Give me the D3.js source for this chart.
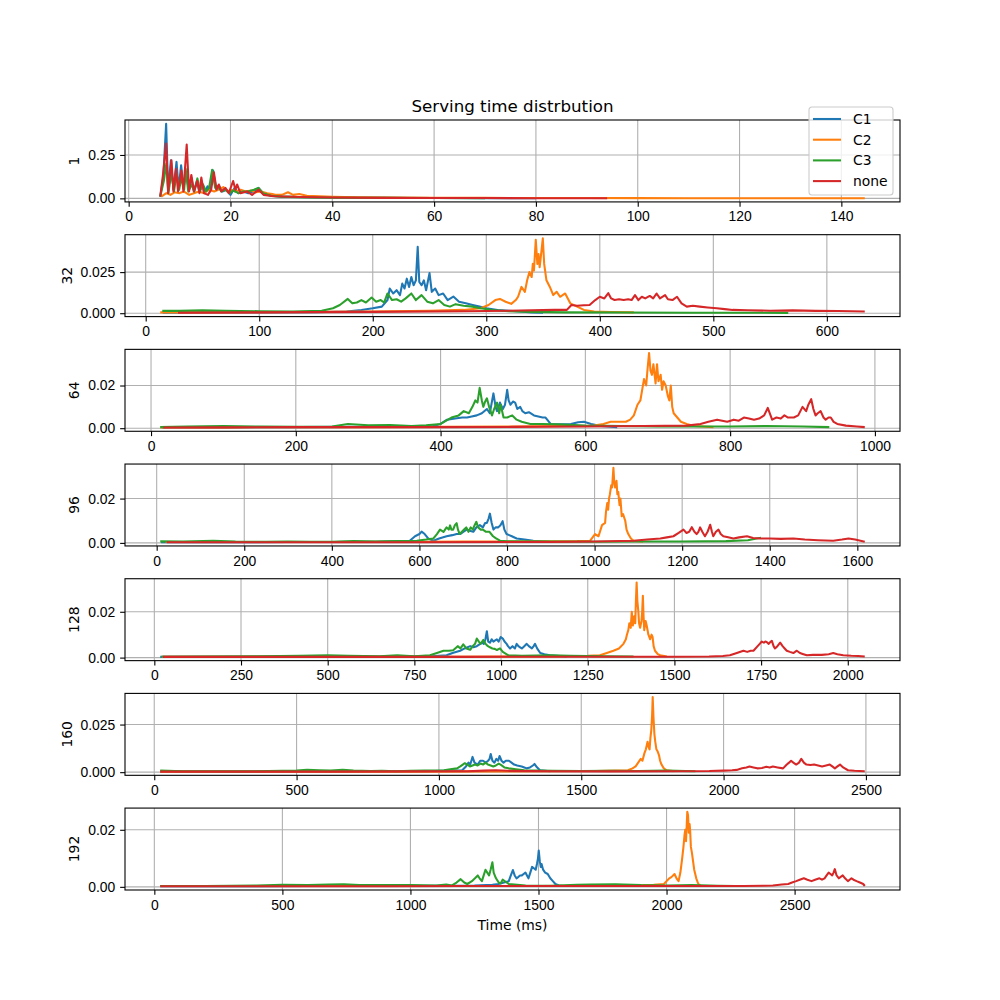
<!DOCTYPE html>
<html>
<head>
<meta charset="utf-8">
<title>Serving time distrbution</title>
<script src="https://cdn.jsdelivr.net/npm/d3@7"></script>
<style>
  body { margin: 0; background: #fff; }
  svg { font-family: "DejaVu Sans", sans-serif; }
  .tick text { font-size: 13.9px; fill: #000; }
</style>
</head>
<body>
<div id="chart"></div>
<script>
// ---- data (x in ms, y = density) ----
const batches = ["1", "32", "64", "96", "128", "160", "192"];
const seriesNames = ["C1", "C2", "C3", "none"];
const colors = ["#1f77b4", "#ff7f0e", "#2ca02c", "#d62728"];

const xTicks = [
  [0, 20, 40, 60, 80, 100, 120, 140],
  [0, 100, 200, 300, 400, 500, 600],
  [0, 200, 400, 600, 800, 1000],
  [0, 200, 400, 600, 800, 1000, 1200, 1400, 1600],
  [0, 250, 500, 750, 1000, 1250, 1500, 1750, 2000],
  [0, 500, 1000, 1500, 2000, 2500],
  [0, 500, 1000, 1500, 2000, 2500]
];
const yTicks = [[0, 0.25], [0, 0.025], [0, 0.02], [0, 0.02], [0, 0.02], [0, 0.025], [0, 0.02]];
const yFormats = [".2f", ".3f", ".2f", ".2f", ".2f", ".3f", ".2f"];

// batch 1
const c1_b1 = [[6.2,0.01],[6.8,0.12],[7.36,0.43],[7.75,0.04],[8.3,0.22],[8.8,0.05],[9.4,0.21],[9.8,0.05],[10.3,0.19],[10.8,0.06],[11.3,0.15],[11.8,0.05],[12.3,0.12],[12.8,0.04],[13.4,0.1],[13.9,0.04],[14.4,0.09],[14.9,0.03],[15.5,0.07],[16.0,0.04],[16.6,0.16],[17.2,0.05],[17.8,0.07],[18.4,0.04],[19.2,0.05],[20,0.02],[20.8,0.06],[21.5,0.03],[22.5,0.04],[23.5,0.03],[24.5,0.04],[25.5,0.06],[26.5,0.025],[28,0.015],[30,0.01],[33,0.008],[36,0.006],[40,0.005],[45,0.004],[50,0.003],[55,0.002],[60,0.002],[70,0.001],[80,0.001]];
const c2_b1 = [[6.4,0.01],[7.4,0.03],[8.2,0.02],[9,0.035],[10,0.03],[10.8,0.04],[11.9,0.02],[12.8,0.03],[13.8,0.04],[14.8,0.03],[15.8,0.05],[16.8,0.04],[17.6,0.05],[18.6,0.065],[19.4,0.04],[20.2,0.05],[21,0.04],[22,0.05],[23,0.04],[24,0.045],[25,0.035],[26,0.04],[27.2,0.03],[28.2,0.025],[29,0.02],[30.1,0.02],[31.3,0.035],[32.3,0.02],[33.5,0.025],[35,0.015],[37.5,0.012],[40,0.009],[45,0.006],[50,0.005],[60,0.004],[70,0.003],[80,0.002],[90,0.002],[100,0.0015],[110,0.001],[120,0.001],[130,0.001],[144.6,0.001]];
const c3_b1 = [[6.2,0.01],[6.9,0.1],[7.4,0.2],[7.8,0.03],[8.4,0.15],[8.9,0.04],[9.4,0.14],[9.9,0.05],[10.4,0.12],[10.9,0.05],[11.2,0.17],[11.7,0.04],[12.4,0.08],[12.9,0.04],[13.5,0.115],[14,0.04],[14.6,0.08],[15.2,0.04],[15.8,0.06],[16.4,0.165],[17.0,0.06],[17.5,0.07],[18.2,0.04],[19,0.05],[19.8,0.03],[20.5,0.045],[21.6,0.03],[22.5,0.04],[23.5,0.04],[24.6,0.05],[25.5,0.06],[26.4,0.03],[28,0.015],[30,0.01],[33,0.007],[36,0.005],[40,0.004],[50,0.003],[60,0.002],[70,0.001]];
const none_b1 = [[6.2,0.01],[6.8,0.15],[7.36,0.316],[7.75,0.03],[8.4,0.22],[8.8,0.04],[9.3,0.17],[9.7,0.04],[10.36,0.16],[10.75,0.04],[11.4,0.31],[11.86,0.04],[12.31,0.135],[12.83,0.04],[13.49,0.1],[13.9,0.03],[14.27,0.12],[14.79,0.03],[15.57,0.02],[16.2,0.05],[16.74,0.15],[17.27,0.05],[17.72,0.08],[18.18,0.04],[19.02,0.06],[19.67,0.03],[20.52,0.1],[20.98,0.05],[21.3,0.08],[21.95,0.03],[23.26,0.04],[24.24,0.02],[25.54,0.05],[26.5,0.02],[28.5,0.012],[33.7,0.008],[40.2,0.005],[50,0.003],[60,0.002],[70,0.002],[80,0.001],[94,0.001]];

// batch 32
const c1_b32 = [[15,0.0003],[60,0.0004],[100,0.0004],[150,0.0006],[177,0.001],[190,0.002],[200,0.003],[208,0.004],[213,0.008],[215,0.015],[218,0.012],[221,0.014],[224,0.011],[226,0.018],[228,0.015],[230,0.021],[232,0.016],[234,0.022],[236,0.017],[238,0.02],[239.6,0.0404],[241,0.019],[243,0.017],[245,0.02],[247,0.014],[250,0.0244],[252,0.013],[255,0.015],[258,0.011],[262,0.012],[266,0.008],[271,0.0101],[276,0.007],[282,0.006],[288,0.005],[294,0.004],[300,0.003],[310,0.002],[320,0.0015],[330,0.001],[340,0.0005],[350,0.0003]];
const c2_b32 = [[12.8,0.0005],[50,0.0005],[100,0.0006],[150,0.0008],[200,0.001],[250,0.0015],[280,0.002],[295,0.003],[302,0.005],[308,0.008],[312,0.0087],[317,0.007],[322,0.0057],[326,0.008],[328,0.01],[331,0.016],[334,0.013],[336,0.02],[338,0.025],[340,0.022],[341,0.03],[342,0.026],[343.6,0.0447],[345,0.03],[346,0.036],[347,0.028],[348,0.034],[349.8,0.0455],[351,0.03],[353,0.02],[356,0.016],[359,0.011],[362,0.013],[365,0.01],[369.5,0.012],[374,0.006],[380,0.004],[386,0.002],[395,0.001],[410,0.0007],[430,0.0005]];
const c3_b32 = [[14.6,0.0014],[30,0.0014],[50,0.0017],[70,0.0015],[100,0.0012],[130,0.001],[155,0.0015],[165,0.003],[171,0.005],[178,0.0087],[182,0.006],[186,0.0065],[190,0.008],[194,0.0065],[199,0.0095],[203,0.007],[207,0.008],[210,0.0065],[213,0.012],[217,0.008],[221,0.0085],[225,0.007],[229,0.009],[234,0.012],[238,0.008],[243,0.011],[248,0.007],[253,0.006],[258,0.008],[263,0.005],[268,0.004],[273,0.0055],[280,0.0045],[288,0.004],[295,0.003],[305,0.002],[320,0.0012],[340,0.0008],[370,0.0005],[420,0.0004],[480,0.0003],[566,0.0002]];
const none_b32 = [[28.5,0.0003],[100,0.0005],[200,0.0008],[280,0.0012],[330,0.0016],[360,0.002],[371,0.002],[375,0.005],[380,0.0045],[386,0.0048],[391,0.005],[396,0.008],[400,0.01],[404,0.009],[407.5,0.0122],[410,0.009],[413,0.008],[417,0.0085],[421,0.008],[425,0.0085],[428,0.008],[431,0.011],[434,0.008],[437,0.01],[440,0.009],[444,0.0105],[447,0.009],[450,0.012],[453,0.009],[457.5,0.011],[460,0.0085],[464,0.008],[468,0.01],[472,0.006],[476.6,0.004],[482,0.0045],[488,0.004],[495,0.0035],[503,0.003],[510,0.0025],[517,0.002],[530,0.0018],[550,0.0015],[570,0.0017],[590,0.0014],[610,0.0013],[633.4,0.001]];

// batch 64
const c1_b64 = [[15,0.0003],[100,0.0004],[200,0.0005],[300,0.0006],[370,0.0008],[390,0.001],[400,0.002],[409,0.004],[420,0.0045],[430,0.005],[436.6,0.005],[443,0.0055],[450,0.006],[457,0.007],[464,0.009],[468,0.007],[473,0.0163],[476,0.01],[478,0.008],[482,0.012],[486,0.009],[489,0.011],[492,0.018],[494,0.013],[496.6,0.011],[500,0.0125],[503,0.012],[506,0.009],[510,0.01],[513,0.008],[517,0.007],[522,0.0075],[529,0.006],[535,0.0055],[541,0.005],[545,0.005],[552,0.002],[565,0.0018],[580,0.002],[590,0.0028],[598,0.003],[608,0.002],[621,0.001],[644,0.0005]];
const c2_b64 = [[12.7,0.0004],[100,0.0004],[200,0.0005],[300,0.0005],[400,0.0006],[500,0.0008],[560,0.001],[600,0.001],[612,0.0012],[625,0.002],[635,0.003],[645,0.003],[656,0.003],[662,0.004],[667,0.006],[672,0.011],[676,0.013],[681,0.023],[684,0.02],[686,0.028],[688,0.0352],[690,0.027],[692,0.025],[694,0.03],[697,0.021],[699,0.03],[701,0.022],[704,0.025],[706,0.018],[708,0.022],[711,0.02],[714,0.015],[716,0.013],[718,0.02],[720,0.01],[722,0.007],[727,0.005],[732,0.003],[740,0.002],[750,0.001],[777,0.0005]];
const c3_b64 = [[12.7,0.0005],[50,0.0008],[100,0.001],[150,0.0008],[200,0.0006],[250,0.0008],[272,0.002],[300,0.0014],[330,0.0015],[360,0.001],[380,0.0014],[400,0.002],[415,0.005],[425,0.006],[432,0.008],[439,0.007],[444,0.01],[448,0.013],[451,0.012],[454,0.0189],[457,0.013],[459,0.01],[461,0.012],[464,0.014],[467,0.01],[471,0.006],[474,0.009],[478,0.012],[481,0.007],[483,0.011],[487,0.005],[492,0.005],[499,0.006],[505,0.004],[512,0.003],[524,0.002],[540,0.002],[560,0.0018],[600,0.0012],[650,0.001],[700,0.0008],[800,0.0008],[850,0.001],[900,0.0008],[937,0.0005]];
const none_b64 = [[17,0.0003],[100,0.0004],[200,0.0005],[300,0.0005],[400,0.0005],[500,0.0006],[600,0.0008],[680,0.001],[740,0.0012],[759,0.002],[770,0.003],[782,0.004],[789,0.0035],[796,0.003],[805,0.004],[812,0.0035],[819,0.005],[826,0.0045],[833,0.004],[840,0.0045],[847,0.006],[852,0.0095],[858,0.004],[864,0.005],[870,0.0045],[875,0.006],[880,0.005],[888,0.005],[894,0.006],[900,0.01],[905,0.008],[908,0.011],[912,0.0136],[915,0.009],[918,0.006],[921,0.007],[925,0.008],[929,0.005],[932,0.004],[936,0.005],[939,0.005],[943,0.003],[948,0.002],[960,0.0012],[975,0.0008],[986,0.0005]];

// batch 96
const c1_b96 = [[10,0.0003],[100,0.0003],[200,0.0003],[300,0.0004],[400,0.0004],[500,0.0005],[560,0.0008],[578,0.001],[590,0.003],[600,0.004],[605,0.0051],[612,0.004],[620,0.002],[632,0.001],[645,0.002],[662,0.003],[675,0.0035],[685,0.004],[693,0.004],[700,0.005],[708,0.006],[715,0.0055],[723,0.005],[730,0.007],[738,0.008],[745,0.007],[750,0.009],[754,0.009],[758,0.011],[761,0.0132],[765,0.009],[769,0.006],[774,0.007],[780,0.007],[785,0.008],[790,0.0098],[794,0.006],[799,0.004],[805,0.0035],[811,0.003],[822,0.002],[840,0.0015],[860,0.001],[898,0.0005]];
const c2_b96 = [[20,0.0004],[100,0.0004],[200,0.0004],[300,0.0004],[400,0.0004],[500,0.0005],[600,0.0005],[700,0.0006],[800,0.0006],[900,0.0007],[960,0.0008],[990,0.001],[1001,0.004],[1009,0.003],[1017,0.008],[1024,0.009],[1026,0.014],[1029,0.018],[1031,0.015],[1033,0.02],[1035,0.022],[1038,0.026],[1040,0.025],[1043,0.0339],[1045,0.027],[1047,0.025],[1050,0.028],[1052,0.022],[1054,0.023],[1057,0.017],[1059,0.02],[1062,0.012],[1065,0.013],[1070,0.01],[1073,0.006],[1077,0.004],[1083,0.002],[1089,0.001],[1111,0.0005]];
const c3_b96 = [[8.1,0.0007],[60,0.0006],[129,0.001],[180,0.0006],[250,0.0005],[300,0.0006],[350,0.0005],[400,0.0005],[450,0.0008],[500,0.0006],[550,0.0008],[594,0.001],[615,0.0015],[632,0.002],[640,0.004],[647,0.006],[655,0.005],[662,0.007],[667,0.006],[670,0.0079],[673,0.006],[677,0.006],[681,0.008],[685,0.0089],[688,0.006],[692,0.004],[697,0.005],[702,0.006],[707,0.007],[712,0.005],[717,0.007],[722,0.006],[726,0.008],[730,0.0095],[734,0.007],[740,0.006],[745,0.006],[752,0.005],[760,0.005],[768,0.003],[775,0.002],[784,0.001],[800,0.0007],[900,0.0006],[1000,0.0005],[1100,0.0006],[1200,0.0006],[1300,0.0008],[1350,0.0012],[1370,0.002],[1380,0.0023]];
const none_b96 = [[23,0.0003],[200,0.0003],[400,0.0003],[600,0.0003],[800,0.0004],[900,0.0004],[1000,0.0006],[1089,0.001],[1120,0.0015],[1150,0.002],[1165,0.0025],[1180,0.003],[1192,0.0045],[1203,0.006],[1210,0.0045],[1216,0.005],[1222,0.0071],[1228,0.005],[1233,0.004],[1237,0.005],[1241,0.007],[1246,0.005],[1252,0.003],[1258,0.005],[1264,0.0082],[1268,0.005],[1271,0.003],[1277,0.005],[1283,0.006],[1288,0.004],[1294,0.003],[1305,0.0025],[1317,0.002],[1330,0.0025],[1348,0.003],[1362,0.0022],[1378,0.002],[1400,0.002],[1425,0.0018],[1454,0.002],[1480,0.0015],[1510,0.0012],[1545,0.001],[1565,0.0015],[1580,0.002],[1595,0.0015],[1617,0.0005]];

// batch 128
const c1_b128 = [[17,0.0003],[100,0.0003],[300,0.0003],[500,0.0004],[700,0.0004],[800,0.0006],[843,0.001],[860,0.002],[882,0.003],[895,0.004],[911,0.005],[920,0.0045],[930,0.005],[940,0.006],[945,0.0065],[950,0.006],[955,0.008],[959,0.0115],[963,0.007],[968,0.0065],[973,0.008],[978,0.007],[983,0.0075],[988,0.008],[993,0.007],[999,0.009],[1005,0.0083],[1010,0.007],[1016,0.006],[1020,0.005],[1026,0.004],[1033,0.005],[1040,0.004],[1045,0.006],[1050,0.005],[1055,0.0045],[1060,0.004],[1067,0.005],[1074,0.006],[1080,0.005],[1089,0.004],[1094,0.005],[1098,0.006],[1104,0.004],[1113,0.002],[1125,0.0015],[1141,0.001],[1190,0.0005]];
const c2_b128 = [[22,0.0004],[200,0.0004],[400,0.0004],[600,0.0004],[800,0.0004],[1000,0.0005],[1150,0.0006],[1250,0.0008],[1285,0.001],[1305,0.002],[1324,0.003],[1340,0.004],[1353,0.006],[1360,0.008],[1363,0.01],[1367,0.012],[1370,0.015],[1374,0.013],[1377,0.02],[1380,0.014],[1384,0.018],[1387,0.015],[1389,0.025],[1391,0.0328],[1393,0.025],[1396,0.02],[1398,0.015],[1401,0.013],[1405,0.016],[1407,0.02],[1409,0.027],[1411,0.018],[1413,0.012],[1417,0.016],[1420,0.014],[1425,0.01],[1430,0.008],[1434,0.01],[1437,0.009],[1440,0.005],[1444,0.003],[1452,0.0015],[1459,0.001],[1478,0.0005]];
const c3_b128 = [[20,0.0004],[150,0.0005],[300,0.0006],[420,0.0008],[500,0.001],[560,0.0008],[650,0.0006],[700,0.001],[750,0.0006],[795,0.001],[815,0.002],[834,0.003],[850,0.003],[862,0.0032],[875,0.005],[883,0.004],[891,0.0058],[900,0.004],[911,0.0034],[918,0.005],[925,0.006],[930,0.0083],[936,0.007],[941,0.006],[949,0.0077],[955,0.006],[962,0.005],[968,0.0045],[975,0.004],[982,0.0038],[988,0.0033],[997,0.004],[1005,0.0025],[1021,0.001],[1060,0.0008],[1100,0.0009],[1141,0.001],[1200,0.0008],[1300,0.0006],[1382,0.0005]];
const none_b128 = [[25,0.0003],[300,0.0003],[600,0.0003],[900,0.0003],[1200,0.0004],[1500,0.0004],[1600,0.0005],[1640,0.0007],[1660,0.001],[1680,0.002],[1699,0.003],[1710,0.0025],[1720,0.003],[1728,0.003],[1740,0.005],[1746,0.006],[1752,0.007],[1758,0.0065],[1762,0.007],[1766,0.0068],[1772,0.006],[1778,0.007],[1781,0.0073],[1786,0.005],[1790,0.004],[1797,0.005],[1805,0.0065],[1812,0.005],[1818,0.004],[1824,0.003],[1833,0.0025],[1843,0.002],[1853,0.003],[1862,0.002],[1872,0.0015],[1882,0.001],[1900,0.0012],[1925,0.0012],[1945,0.0015],[1958,0.002],[1970,0.0015],[1987,0.001],[2010,0.0008],[2030,0.0007],[2049,0.0005]];

// batch 160
const c1_b160 = [[21,0.0003],[200,0.0003],[400,0.0003],[600,0.0003],[800,0.0004],[950,0.0005],[1050,0.0008],[1082,0.001],[1095,0.003],[1104,0.005],[1110,0.004],[1118,0.008],[1125,0.005],[1136,0.004],[1145,0.006],[1155,0.006],[1164,0.005],[1173,0.006],[1178,0.007],[1182,0.0095],[1188,0.006],[1195,0.005],[1202,0.007],[1208,0.006],[1213,0.0085],[1220,0.006],[1227,0.005],[1235,0.006],[1246,0.006],[1255,0.005],[1264,0.004],[1275,0.0035],[1291,0.003],[1300,0.0025],[1309,0.002],[1320,0.0025],[1330,0.0035],[1336,0.0043],[1342,0.003],[1355,0.001],[1391,0.0005]];
const c2_b160 = [[21,0.0003],[300,0.0003],[600,0.0003],[900,0.0003],[1200,0.0004],[1400,0.0005],[1550,0.0006],[1620,0.0008],[1664,0.001],[1680,0.002],[1691,0.003],[1700,0.005],[1709,0.007],[1715,0.006],[1722,0.01],[1727,0.012],[1733,0.016],[1737,0.013],[1740,0.012],[1743,0.018],[1746,0.022],[1749,0.03],[1751,0.0394],[1754,0.028],[1757,0.02],[1760,0.016],[1764,0.012],[1768,0.011],[1773,0.009],[1777,0.006],[1782,0.004],[1790,0.002],[1800,0.001],[1827,0.0005]];
const c3_b160 = [[21,0.0008],[100,0.0005],[200,0.0005],[300,0.0004],[400,0.0006],[500,0.0009],[537,0.0012],[580,0.001],[620,0.0008],[662,0.0012],[700,0.0008],[760,0.0006],[800,0.0007],[850,0.0005],[900,0.0007],[950,0.0009],[1000,0.0008],[1018,0.001],[1040,0.0015],[1064,0.002],[1075,0.003],[1084,0.004],[1091,0.0047],[1100,0.004],[1109,0.003],[1118,0.0035],[1127,0.004],[1136,0.0035],[1146,0.0045],[1155,0.004],[1164,0.005],[1172,0.004],[1182,0.0035],[1191,0.003],[1200,0.0035],[1210,0.0045],[1218,0.0038],[1230,0.0025],[1245,0.002],[1270,0.0015],[1300,0.001],[1400,0.0007],[1500,0.0006],[1600,0.0007],[1700,0.0006],[1800,0.0008],[1901,0.0005]];
const none_b160 = [[21,0.0003],[300,0.0003],[600,0.0003],[900,0.0004],[1100,0.0005],[1160,0.0008],[1200,0.001],[1240,0.0007],[1400,0.0005],[1600,0.0004],[1800,0.0005],[1950,0.0006],[2000,0.0008],[2030,0.001],[2046,0.0012],[2065,0.002],[2080,0.0025],[2091,0.003],[2105,0.0025],[2118,0.002],[2135,0.0022],[2150,0.0028],[2162,0.0025],[2173,0.003],[2190,0.0025],[2209,0.002],[2222,0.004],[2230,0.005],[2237,0.006],[2245,0.005],[2255,0.004],[2265,0.005],[2273,0.007],[2282,0.005],[2291,0.004],[2305,0.0038],[2318,0.004],[2332,0.0035],[2346,0.003],[2360,0.0035],[2373,0.004],[2382,0.003],[2391,0.002],[2400,0.003],[2409,0.004],[2420,0.0025],[2437,0.001],[2460,0.0007],[2496,0.0005]];

// batch 192
const c1_b192 = [[23,0.0002],[300,0.0002],[600,0.0003],[900,0.0003],[1100,0.0004],[1250,0.0005],[1320,0.0007],[1344,0.001],[1365,0.0015],[1384,0.002],[1392,0.004],[1400,0.0059],[1407,0.004],[1414,0.003],[1422,0.0035],[1428,0.004],[1435,0.004],[1442,0.0045],[1449,0.005],[1455,0.004],[1461,0.003],[1468,0.005],[1475,0.007],[1482,0.0065],[1489,0.006],[1494,0.008],[1498,0.01],[1501,0.0127],[1505,0.009],[1509,0.007],[1512,0.008],[1518,0.006],[1526,0.005],[1536,0.0045],[1546,0.003],[1556,0.002],[1566,0.001],[1580,0.0005],[1596,0.0003]];
const c2_b192 = [[23,0.0003],[300,0.0003],[600,0.0003],[900,0.0003],[1200,0.0003],[1500,0.0003],[1700,0.0004],[1850,0.0005],[1950,0.0007],[1990,0.001],[2000,0.002],[2011,0.003],[2020,0.0035],[2031,0.0045],[2039,0.003],[2047,0.002],[2054,0.005],[2061,0.01],[2066,0.014],[2070,0.018],[2073,0.02],[2076,0.016],[2079,0.022],[2081,0.0263],[2084,0.025],[2087,0.019],[2090,0.022],[2092,0.02],[2095,0.014],[2099,0.012],[2102,0.01],[2108,0.006],[2116,0.003],[2124,0.001],[2132,0.0005]];
const c3_b192 = [[23,0.0003],[200,0.0003],[400,0.0005],[500,0.0007],[600,0.0006],[680,0.0008],[740,0.0009],[800,0.0006],[900,0.0006],[1000,0.0006],[1100,0.0005],[1140,0.0008],[1162,0.0005],[1180,0.0015],[1196,0.0027],[1210,0.0015],[1222,0.001],[1240,0.002],[1252,0.003],[1263,0.004],[1270,0.003],[1279,0.002],[1286,0.004],[1293,0.006],[1300,0.005],[1307,0.004],[1313,0.006],[1320,0.0086],[1325,0.005],[1334,0.003],[1345,0.0015],[1352,0.0012],[1360,0.0025],[1368,0.002],[1384,0.001],[1450,0.0005],[1550,0.0004],[1650,0.0007],[1700,0.0008],[1800,0.0009],[1900,0.0006],[2000,0.0005],[2100,0.0006],[2200,0.0004],[2270,0.0003]];
const none_b192 = [[23,0.0002],[300,0.0002],[600,0.0002],[900,0.0002],[1200,0.0003],[1500,0.0003],[1800,0.0003],[2100,0.0003],[2300,0.0003],[2380,0.0004],[2415,0.0005],[2450,0.0008],[2475,0.001],[2490,0.0015],[2506,0.002],[2520,0.0025],[2536,0.003],[2550,0.0025],[2566,0.002],[2580,0.0025],[2597,0.003],[2607,0.0025],[2617,0.003],[2625,0.004],[2633,0.005],[2640,0.0045],[2647,0.004],[2652,0.005],[2657,0.0062],[2664,0.004],[2673,0.003],[2680,0.0035],[2688,0.004],[2697,0.003],[2708,0.002],[2715,0.0025],[2722,0.003],[2730,0.0025],[2742,0.002],[2755,0.0015],[2768,0.001],[2774,0.0003]];

const panelSeries = [
  [c1_b1, c2_b1, c3_b1, none_b1],
  [c1_b32, c2_b32, c3_b32, none_b32],
  [c1_b64, c2_b64, c3_b64, none_b64],
  [c1_b96, c2_b96, c3_b96, none_b96],
  [c1_b128, c2_b128, c3_b128, none_b128],
  [c1_b160, c2_b160, c3_b160, none_b160],
  [c1_b192, c2_b192, c3_b192, none_b192]
];

// ---- layout (matplotlib-like subplots) ----
const W = 1000, H = 1000;
const left = 125, right = 900, figTop = 120, figBottom = 890;
const n = batches.length, hspace = 0.4;
const ph = (figBottom - figTop) / (n + (n - 1) * hspace);
const pw = right - left;
const fs = 13.9;
const tickLen = 4.86, tickPad = 4.86;

const svg = d3.select("#chart").append("svg")
  .attr("width", W).attr("height", H);

function padded(ext) {
  const d = ext[1] - ext[0];
  return [ext[0] - 0.05 * d, ext[1] + 0.05 * d];
}

panelSeries.forEach((series, i) => {
  const top = figTop + i * ph * (1 + hspace);
  const g = svg.append("g").attr("transform", `translate(${left},${top})`);

  const all = series.flat();
  const x = d3.scaleLinear().domain(padded(d3.extent(all, d => d[0]))).range([0, pw]);
  const y = d3.scaleLinear().domain(padded(d3.extent(all, d => d[1]))).range([ph, 0]);

  // grid
  const grid = g.append("g").attr("stroke", "#b0b0b0").attr("stroke-width", 1.1);
  grid.selectAll(".gx").data(xTicks[i]).join("line")
    .attr("x1", d => x(d)).attr("x2", d => x(d)).attr("y1", 0).attr("y2", ph);
  grid.selectAll(".gy").data(yTicks[i]).join("line")
    .attr("y1", d => y(d)).attr("y2", d => y(d)).attr("x1", 0).attr("x2", pw);

  // lines
  const line = d3.line().x(d => x(d[0])).y(d => y(d[1]));
  const clipId = "clip" + i;
  g.append("clipPath").attr("id", clipId).append("rect").attr("width", pw).attr("height", ph);
  g.append("g").attr("clip-path", `url(#${clipId})`)
    .selectAll("path").data(series).join("path")
    .attr("d", line)
    .attr("fill", "none")
    .attr("stroke", (d, k) => colors[k])
    .attr("stroke-width", 2.08)
    .attr("stroke-linejoin", "round");

  // axes
  const xAxis = d3.axisBottom(x).tickValues(xTicks[i]).tickSize(tickLen).tickPadding(tickPad).tickFormat(d3.format("d"));
  const yAxis = d3.axisLeft(y).tickValues(yTicks[i]).tickSize(tickLen).tickPadding(tickPad).tickFormat(d3.format(yFormats[i]));
  const gx = g.append("g").attr("class", "xaxis").attr("transform", `translate(0,${ph})`).call(xAxis);
  const gy = g.append("g").attr("class", "yaxis").call(yAxis);
  [gx, gy].forEach(a => {
    a.select(".domain").remove();
    a.selectAll(".tick line").attr("stroke", "#000").attr("stroke-width", 1.1);
    a.selectAll(".tick text").style("font-size", fs + "px").attr("fill", "#000");
  });

  // frame
  g.append("rect").attr("width", pw).attr("height", ph)
    .attr("fill", "none").attr("stroke", "#000").attr("stroke-width", 1.1);

  // y label
  let maxW = 0;
  gy.selectAll(".tick text").each(function () { maxW = Math.max(maxW, this.getComputedTextLength()); });
  g.append("text")
    .attr("transform", `translate(${-(tickLen + tickPad + maxW + 5.6 + 3.3)},${ph / 2}) rotate(-90)`)
    .attr("text-anchor", "middle")
    .style("font-size", fs + "px")
    .text(batches[i]);

  if (i === 0) {
    g.append("text")
      .attr("x", pw / 2).attr("y", -8.3)
      .attr("text-anchor", "middle")
      .style("font-size", "16.7px")
      .text("Serving time distrbution");
  }
  if (i === n - 1) {
    g.append("text")
      .attr("x", pw / 2).attr("y", ph + 40)
      .attr("text-anchor", "middle")
      .style("font-size", fs + "px")
      .text("Time (ms)");
  }
});

// legend
const lg = svg.append("g").attr("transform", "translate(809,107)");
lg.append("rect").attr("width", 84).attr("height", 88).attr("rx", 3)
  .attr("fill", "#fff").attr("fill-opacity", 0.8)
  .attr("stroke", "#cccccc").attr("stroke-width", 1.1);
const items = lg.selectAll(".item").data(seriesNames).join("g")
  .attr("transform", (d, k) => `translate(0,${12 + k * 20.7})`);
items.append("line").attr("x1", 4).attr("x2", 32)
  .attr("stroke", (d, k) => colors[k]).attr("stroke-width", 2.08);
items.append("text").attr("x", 44).attr("dy", "0.35em")
  .style("font-size", fs + "px").text(d => d);
</script>
</body>
</html>
